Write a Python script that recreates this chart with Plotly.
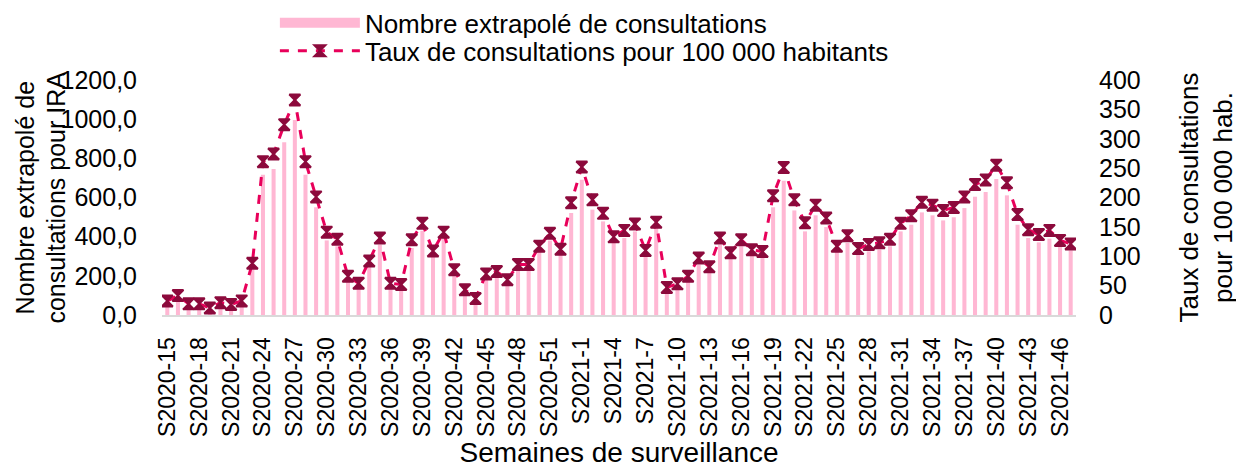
import plotly.graph_objects as go

weeks = (["S2020-%d" % w for w in range(15, 54)] +
         ["S2021-%d" % w for w in range(1, 48)])

nombre = [60, 80, 50, 48, 30, 55, 45, 60, 231, 716, 745, 882, 996, 716, 550, 381,
          351, 172, 138, 248, 359, 138, 140, 342, 430, 300, 393, 209, 104, 61, 185,
          206, 155, 231, 240, 325, 380, 308, 521, 691, 538, 478, 368, 393, 427, 300,
          444, 112, 129, 172, 257, 220, 359, 288, 351, 308, 300, 550, 686, 534, 427,
          509, 449, 322, 368, 308, 325, 334, 351, 427, 461, 524, 509, 483, 499, 546,
          604, 628, 694, 611, 461, 393, 371, 390, 347, 330]

taux = [24, 33, 19, 19, 12, 21, 18, 24, 88, 261, 274, 324, 366, 261, 201, 141,
        129, 66, 54, 92, 131, 54, 52, 128, 156, 109, 141, 77, 43, 28, 70,
        74, 60, 86, 86, 117, 139, 112, 191, 252, 196, 173, 133, 144, 155, 110,
        158, 47, 53, 66, 97, 82, 131, 106, 128, 111, 108, 203, 251, 196, 157,
        187, 165, 117, 135, 113, 120, 123, 129, 156, 169, 192, 187, 178, 183, 201,
        222, 230, 255, 225, 171, 145, 137, 144, 127, 121]

left_tickvals = [0, 200, 400, 600, 800, 1000, 1200]
left_ticktext = ["0,0", "200,0", "400,0", "600,0", "800,0", "1000,0", "1200,0"]
right_tickvals = [0, 50, 100, 150, 200, 250, 300, 350, 400]
x_tickvals = weeks[::3]
left_title_lines = ["Nombre extrapolé de", "consultations pour IRA"]

FONT = "Liberation Sans, Arial, sans-serif"
BAR_COLOR = "#FFB7D3"

fig = go.Figure()
fig.add_trace(go.Bar(
    x=weeks, y=nombre, name="Nombre extrapolé de consultations",
    marker=dict(color=BAR_COLOR, line=dict(width=0)),
    yaxis="y", showlegend=False, legendgroup="nb",
))
# legend proxy drawing the wide pink swatch
fig.add_trace(go.Scatter(
    x=[None], y=[None], name="Nombre extrapolé de consultations",
    mode="lines", line=dict(color=BAR_COLOR, width=15),
    legendgroup="nb", showlegend=True, hoverinfo="skip", legend="legend",
))
fig.add_trace(go.Scatter(
    x=weeks, y=taux, name="Taux de consultations pour 100 000 habitants",
    mode="lines+markers",
    line=dict(color="#E8005A", width=3, dash="dash"),
    marker=dict(symbol="hourglass", size=11, color="#8C0A3C",
                line=dict(color="#8C0A3C", width=2)),
    yaxis="y2", legend="legend2",
))

leg_common = dict(xanchor="left", yanchor="top", font=dict(size=26),
                  itemwidth=80, bgcolor="rgba(0,0,0,0)")

title_x = [-0.150, -0.117]
annotations = [
    dict(text=t, xref="paper", yref="paper", x=xx, y=0.5,
         xanchor="center", yanchor="middle", textangle=-90,
         showarrow=False, font=dict(size=25), borderpad=0)
    for t, xx in zip(left_title_lines, title_x)
]

fig.update_layout(
    width=1236, height=460,
    margin=dict(l=154, r=168, t=72, b=153, autoexpand=False),
    paper_bgcolor="white", plot_bgcolor="white",
    font=dict(family=FONT, size=25, color="black"),
    bargap=0.62,
    showlegend=True,
    legend=dict(x=0.1235, y=1.343, **leg_common),
    legend2=dict(x=0.1235, y=1.224, **leg_common),
    xaxis=dict(
        type="category", range=[-0.5, len(weeks) - 0.5],
        tickmode="array", tickvals=x_tickvals, ticktext=x_tickvals,
        tickangle=-90, tickfont=dict(size=23), showgrid=False,
        showline=True, linecolor="#D9D9D9", linewidth=2, ticks="",
        ticklabelstandoff=11, automargin=False,
        title=dict(text="Semaines de surveillance", font=dict(size=28), standoff=15),
    ),
    yaxis=dict(
        range=[0, 1200], tickmode="array", tickvals=left_tickvals, ticktext=left_ticktext,
        showgrid=False, zeroline=False, showline=False, ticks="",
        ticklabelstandoff=24, automargin=False,
    ),
    yaxis2=dict(
        range=[0, 400], overlaying="y", side="right", tickmode="array",
        tickvals=right_tickvals, showgrid=False, zeroline=False, showline=False,
        ticks="", ticklabelstandoff=22, automargin=False,
        title=dict(text="Taux de consultations<br>pour 100 000 hab.",
                   font=dict(size=26), standoff=40),
    ),
    annotations=annotations,
)

fig.write_html("out.html")
